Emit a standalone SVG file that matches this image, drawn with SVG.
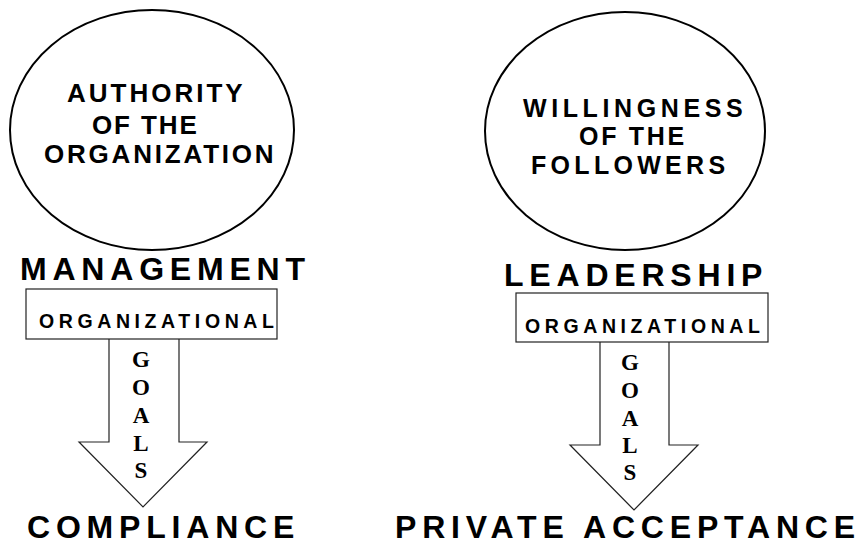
<svg xmlns="http://www.w3.org/2000/svg" width="864" height="544" viewBox="0 0 864 544">
<style>
.ell{fill:#fff;stroke:#000;stroke-width:2}
.box{fill:#fff;stroke:#222;stroke-width:1.2}
.arr{fill:#fff;stroke:#222;stroke-width:1.2;stroke-linejoin:miter}
.t{font-family:"Liberation Sans",Arial,sans-serif;font-weight:bold;fill:#000}
.e{font-size:26px}
.e2{font-size:25px}
.big{font-size:32px;letter-spacing:5.8px}
.org{font-size:19.5px;letter-spacing:4.6px}
.g{font-family:"Liberation Serif","Times New Roman",serif;font-weight:bold;font-size:23px;fill:#000;text-anchor:middle}
</style>
<rect width="864" height="544" fill="#fff"/>
<g id="authority">
<ellipse class="ell" cx="152" cy="130" rx="142" ry="120"/>
<text class="t e" x="67" y="102" letter-spacing="3">AUTHORITY</text>
<text class="t e" x="92" y="134" letter-spacing="1.9">OF THE</text>
<text class="t e" x="44" y="163" letter-spacing="2.8">ORGANIZATION</text>
</g>
<g id="willingness">
<ellipse class="ell" cx="625" cy="131" rx="140" ry="119"/>
<text class="t e2" x="523" y="117" letter-spacing="4.6">WILLINGNESS</text>
<text class="t e2" x="579" y="145" letter-spacing="2.7">OF THE</text>
<text class="t e2" x="531" y="174" letter-spacing="4.3">FOLLOWERS</text>
</g>
<g id="management">
<text class="t big" x="20" y="280">MANAGEMENT</text>
</g>
<g id="leadership">
<text class="t big" x="504" y="286">LEADERSHIP</text>
</g>
<g id="connectors">
<path class="arr" d="M109,339 L109,442 L79,442 L143,507 L207,442 L179,442 L179,339"/>
<path class="arr" d="M600,342 L600,445 L570,445 L634,510 L698,445 L669,445 L669,342"/>
</g>
<g id="org-goals-left">
<rect class="box" x="26" y="289" width="251" height="50"/>
<text class="t org" x="39" y="328">ORGANIZATIONAL</text>
<text class="g" x="141" y="367">G</text>
<text class="g" x="141" y="395">O</text>
<text class="g" x="141" y="423">A</text>
<text class="g" x="141" y="451">L</text>
<text class="g" x="141" y="478">S</text>
</g>
<g id="org-goals-right">
<rect class="box" x="516" y="293" width="252" height="49"/>
<text class="t org" x="525" y="333">ORGANIZATIONAL</text>
<text class="g" x="630" y="370">G</text>
<text class="g" x="630" y="398">O</text>
<text class="g" x="630" y="426">A</text>
<text class="g" x="630" y="453">L</text>
<text class="g" x="630" y="480">S</text>
</g>
<g id="compliance">
<text class="t big" x="27" y="538">COMPLIANCE</text>
</g>
<g id="private-acceptance">
<text class="t big" x="395" y="538">PRIVATE ACCEPTANCE</text>
</g>
</svg>
